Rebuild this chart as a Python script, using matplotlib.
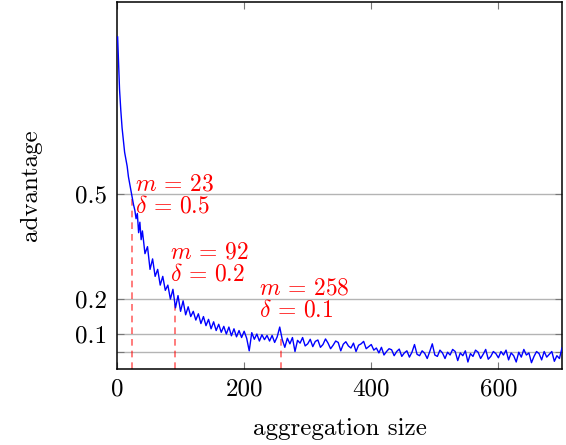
import matplotlib
matplotlib.use("Agg")
import matplotlib.pyplot as plt
import numpy as np

plt.rcParams["font.family"] = "serif"
plt.rcParams["font.serif"] = ["cmr10", "DejaVu Serif"]
plt.rcParams["mathtext.fontset"] = "cm"
plt.rcParams["axes.formatter.use_mathtext"] = True

# early part of the curve (dense sampling)
x_early = [1, 2, 4, 6, 8, 10, 12, 14, 16, 18, 20, 22, 24, 26, 28, 30, 32, 34, 36, 38]
y_early = [0.95, 0.90, 0.80, 0.74, 0.69, 0.655, 0.62, 0.60, 0.58, 0.55,
           0.53, 0.51, 0.49, 0.47, 0.455, 0.43, 0.445, 0.39, 0.42, 0.37]

# rest of the curve, every 4 units from 40 to 700
x_rest = list(range(40, 701, 4))
y_rest = [
    0.395, 0.33, 0.35, 0.285, 0.315, 0.265, 0.285, 0.24, 0.265, 0.225,
    0.24, 0.2, 0.228, 0.175, 0.21, 0.165, 0.195, 0.155, 0.178, 0.15,
    0.165, 0.14, 0.158, 0.13, 0.15, 0.124, 0.142, 0.115, 0.135, 0.11,
    0.128, 0.105, 0.122, 0.1, 0.12, 0.095, 0.115, 0.092, 0.11, 0.09,
    0.108, 0.088, 0.052, 0.104, 0.085, 0.1, 0.08, 0.098, 0.084, 0.096,
    0.08, 0.096, 0.076, 0.092, 0.12, 0.084, 0.062, 0.088, 0.072, 0.09,
    0.05, 0.082, 0.074, 0.09, 0.066, 0.072, 0.085, 0.064, 0.079, 0.083,
    0.062, 0.07, 0.086, 0.074, 0.058, 0.068, 0.08, 0.076, 0.052, 0.071,
    0.078, 0.066, 0.06, 0.074, 0.05, 0.068, 0.072, 0.079, 0.058, 0.064,
    0.07, 0.054, 0.06, 0.046, 0.062, 0.04, 0.05, 0.058, 0.055, 0.038,
    0.05, 0.057, 0.036, 0.046, 0.052, 0.034, 0.048, 0.07, 0.042, 0.038,
    0.052, 0.045, 0.03, 0.05, 0.072, 0.04, 0.036, 0.054, 0.046, 0.03,
    0.048, 0.04, 0.056, 0.05, 0.024, 0.046, 0.038, 0.052, 0.02, 0.044,
    0.036, 0.054, 0.048, 0.03, 0.042, 0.056, 0.028, 0.036, 0.05, 0.044,
    0.032, 0.05, 0.04, 0.054, 0.026, 0.046, 0.038, 0.02, 0.048, 0.034,
    0.056, 0.04, 0.046, 0.018, 0.036, 0.05, 0.044, 0.026, 0.05, 0.034,
    0.042, 0.05, 0.022, 0.038, 0.03, 0.06,
]

# marked points (m, delta) and where their labels sit
marks_m = [23, 92, 258]
marks_delta = [0.5, 0.2, 0.1]
label_x = [28, 83, 224]
label_y = [0.497, 0.303, 0.2]

y_ticks = [0.05, 0.1, 0.2, 0.5]
y_tick_labels = ["", "0.1", "0.2", "0.5"]
x_ticks = [0, 200, 400, 600]


def main():
    fig = plt.figure(figsize=(5.66, 4.45), dpi=100)
    ax = fig.add_axes([0.2067, 0.1708, 0.7862, 0.8247])

    for t in y_ticks:
        ax.axhline(t, color="#b4b4b4", lw=1.0, zorder=0)

    x = np.array(x_early + x_rest)
    y = np.array(y_early + y_rest)
    ax.plot(x, y, color="blue", lw=1.0, zorder=3)

    for m, d, lx, ly in zip(marks_m, marks_delta, label_x, label_y):
        ax.plot([m, m], [0, d], color="red", alpha=0.6, lw=1.2,
                linestyle=(0, (4, 3)), zorder=2)
        ax.text(lx, ly, "$m\\,=\\,%d$\n$\\delta\\,=\\,%s$" % (m, d), color="red",
                fontsize=17, ha="left", va="center", linespacing=1.0, zorder=4)

    ax.set_xlim(0, 700)
    ax.set_ylim(0, 1.05)
    ax.set_xticks(x_ticks)
    ax.set_xticklabels([str(t) for t in x_ticks])
    ax.set_yticks(y_ticks)
    ax.set_yticklabels(y_tick_labels)
    ax.tick_params(direction="in", length=5, width=0.8, color="#777777",
                   top=True, right=True, labelsize=18, pad=7)

    for s in ax.spines.values():
        s.set_linewidth(1.1)

    ax.set_xlabel("aggregation size", fontsize=18, labelpad=12)
    ax.set_ylabel("advantage", fontsize=18, labelpad=24)

    fig.savefig("out.png", dpi=100)


if __name__ == "__main__":
    main()
